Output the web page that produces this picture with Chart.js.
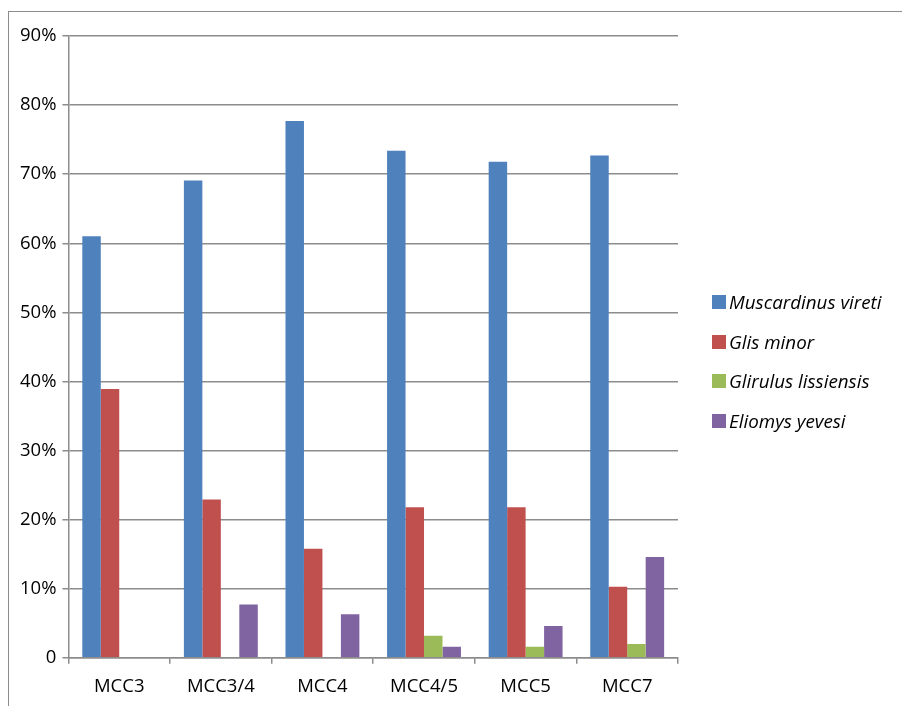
<!DOCTYPE html>
<html>
<head>
<meta charset="utf-8">
<script src="https://cdn.jsdelivr.net/npm/chart.js@4/dist/chart.umd.min.js"></script>
<style>
	html, body { margin: 0; padding: 0; background: #fff; overflow: hidden; }
	#frame {
		position: absolute; left: 8px; top: 11px; width: 1000px; height: 1000px;
		border-left: 1px solid #8c8c8c; border-top: 1px solid #8c8c8c;
	}
	#wrap { position: absolute; left: 0; top: 0; width: 902px; height: 720px; }
	#legend {
		position: absolute; left: 712px; top: 282px;
		font-family: 'Open Sans', sans-serif; font-style: italic; font-size: 18.8px; color: #000;
	}
	.item { display: flex; align-items: center; height: 39.8px; }
	.swatch { width: 14px; height: 14px; margin-right: 3px; }
</style>
</head>
<body>
<div id="frame"></div>
<div id="wrap"><canvas id="chart" width="902" height="720"></canvas></div>
<div id="legend"></div>
<script>
// zone labels along the x axis
const zones = ['MCC3', 'MCC3/4', 'MCC4', 'MCC4/5', 'MCC5', 'MCC7'];

// relative abundance per species, in percent
const muscardinusVireti  = [61.0, 69.1, 77.7, 73.4, 71.8, 72.7];
const glisMinor          = [38.9, 22.9, 15.8, 21.8, 21.8, 10.3];
const glirulusLissiensis = [0,    0,    0,    3.2,  1.6,  2.0];
const eliomysYevesi      = [0,    7.7,  6.3,  1.6,  4.6,  14.6];

const seriesNames  = ['Muscardinus vireti', 'Glis minor', 'Glirulus lissiensis', 'Eliomys yevesi'];
const seriesColors = ['#4f81bd', '#c0504d', '#9bbb59', '#8064a2'];

const gridGrey = '#8c8c8c';

Chart.defaults.font.family = "'Open Sans', sans-serif";
Chart.defaults.font.size = 18.5;
Chart.defaults.color = '#000';

const seriesValues = [muscardinusVireti, glisMinor, glirulusLissiensis, eliomysYevesi];
const datasets = seriesValues.map(function(values, i) {
	return {
		label: seriesNames[i],
		data: values,
		backgroundColor: seriesColors[i],
		borderWidth: 0,
		barPercentage: 1.0,
		categoryPercentage: 4 / 5.5
	};
});

const chart = new Chart('chart', {
	type: 'bar',
	data: {
		labels: zones,
		datasets: datasets
	},
	options: {
		responsive: false,
		animation: false,
		layout: {
			padding: { left: 14, right: 224, top: 36, bottom: 10 }
		},
		scales: {
			x: {
				grid: {
					display: true,
					offset: true,
					drawOnChartArea: false,
					drawTicks: true,
					tickLength: 6,
					color: gridGrey,
					lineWidth: 1.5
				},
				border: { display: true, color: gridGrey, width: 1.5 },
				ticks: { padding: 12, maxRotation: 0 }
			},
			y: {
				min: 0,
				max: 90,
				grid: {
					color: gridGrey,
					lineWidth: 1.5,
					drawTicks: true,
					tickLength: 6
				},
				border: { display: true, color: gridGrey, width: 1.5 },
				ticks: {
					stepSize: 10,
					padding: 6,
					callback: function(v) { return v === 0 ? '0' : v + '%'; }
				}
			}
		},
		plugins: {
			legend: { display: false },
			tooltip: { enabled: false }
		}
	}
});

// legend on the right, built from the dataset names and colours
const legendEl = document.getElementById('legend');
for (let i = 0; i < seriesNames.length; ++i) {
	const row = document.createElement('div');
	row.className = 'item';
	const sw = document.createElement('span');
	sw.className = 'swatch';
	sw.style.background = seriesColors[i];
	const txt = document.createElement('span');
	txt.textContent = seriesNames[i];
	row.appendChild(sw);
	row.appendChild(txt);
	legendEl.appendChild(row);
}
</script>
</body>
</html>
